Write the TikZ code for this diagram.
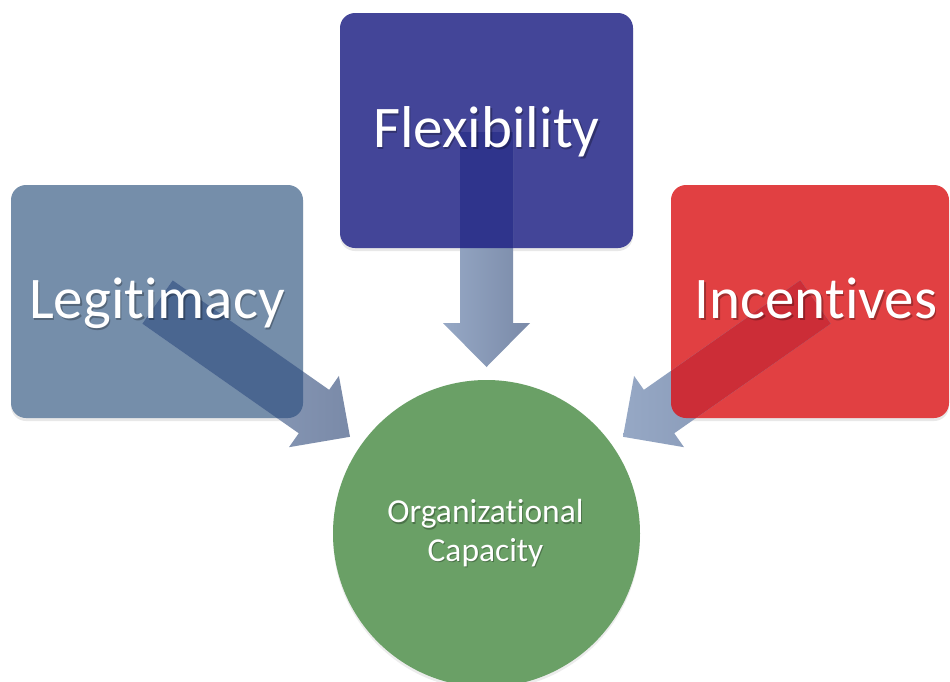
\documentclass[tikz,border=0pt]{standalone}
\usepackage{fontspec}
\setmainfont{Carlito}[Ligatures={NoCommon,NoContextual}]
\usetikzlibrary{shadows}
\definecolor{legit}{RGB}{117,142,170}
\definecolor{legitdk}{RGB}{74,102,144}
\definecolor{flex}{RGB}{67,69,152}
\definecolor{flexdk}{RGB}{47,52,140}
\definecolor{incen}{RGB}{225,64,66}
\definecolor{incendk}{RGB}{204,45,55}
\definecolor{orgcap}{RGB}{106,160,102}
\definecolor{arrowtop}{RGB}{150,168,197}
\definecolor{arrowbot}{RGB}{122,138,168}
\tikzset{
  box/.style={rectangle, rounded corners=15pt, inner sep=0pt, outer sep=0pt,
    drop shadow={opacity=0.18, shadow xshift=0pt, shadow yshift=-3pt}},
  biglabel/.style={anchor=base, text=white, font=\fontsize{59}{64}\selectfont},
  biglabelsh/.style={anchor=base, text=black, opacity=0.28, font=\fontsize{59}{64}\selectfont},
  smalllabel/.style={anchor=center, align=center, text=white, font=\fontsize{33.5}{38.5}\selectfont},
  smalllabelsh/.style={anchor=center, align=center, text=black, opacity=0.28, font=\fontsize{33.5}{38.5}\selectfont},
  blockarrow/.pic={
    \path[pic actions] (0,-26.5) -- (191,-26.5) -- (191,-43.5) -- (235,0)
      -- (191,43.5) -- (191,26.5) -- (0,26.5) -- cycle;
  },
  lightarrow/.style={left color=arrowtop, right color=arrowbot}
}
\begin{document}
\begin{tikzpicture}[x=1pt, y=-1pt]
\useasboundingbox (0,0) rectangle (950,681);
\clip (0,0) rectangle (950,681);
\fill[white] (0,0) rectangle (950,681);

% circle
\node[circle, fill=orgcap, minimum size=307pt, inner sep=0pt, outer sep=0pt,
  drop shadow={opacity=0.15, shadow xshift=0pt, shadow yshift=-3pt}] (org) at (486.5,533.5) {};

% boxes
\node[box, fill=legit, minimum width=292pt, minimum height=233pt] (leg) at (157,301.5) {};
\node[box, fill=flex, minimum width=293pt, minimum height=235pt] (flx) at (486.5,130.5) {};
\node[box, fill=incen, minimum width=278pt, minimum height=233pt] (inc) at (810,301.5) {};

% arrow start points
\coordinate (legA) at (157.5,302);
\coordinate (flxA) at (486.5,132);
\coordinate (incA) at (815.5,302);

% light arrows
\pic[lightarrow, rotate=-35] at (legA) {blockarrow};
\pic[lightarrow, rotate=-90] at (flxA) {blockarrow};
\pic[lightarrow, rotate=-145] at (incA) {blockarrow};

% darker parts inside boxes
\begin{scope}
  \clip[rounded corners=15pt] (leg.south west) rectangle (leg.north east);
  \pic[fill=legitdk, rotate=-35] at (legA) {blockarrow};
\end{scope}
\begin{scope}
  \clip[rounded corners=15pt] (flx.south west) rectangle (flx.north east);
  \pic[fill=flexdk, rotate=-90] at (flxA) {blockarrow};
\end{scope}
\begin{scope}
  \clip[rounded corners=15pt] (inc.south west) rectangle (inc.north east);
  \pic[fill=incendk, rotate=-145] at (incA) {blockarrow};
\end{scope}

% labels (soft shadow, then white text)
\node[biglabelsh] at (158.5,320) {Legitimacy};
\node[biglabel] (legt) at (157,318) {Legitimacy};
\node[biglabelsh] at (488,149) {Flexibility};
\node[biglabel] (flxt) at (486.5,147) {Flexibility};
\node[biglabelsh] at (817.5,320) {Incentives};
\node[biglabel] (inct) at (816,318) {Incentives};
\node[smalllabelsh] at (486.5,534.5) {Organizational\\Capacity};
\node[smalllabel] (orgt) at (485.5,533) {Organizational\\Capacity};
\end{tikzpicture}
\end{document}
